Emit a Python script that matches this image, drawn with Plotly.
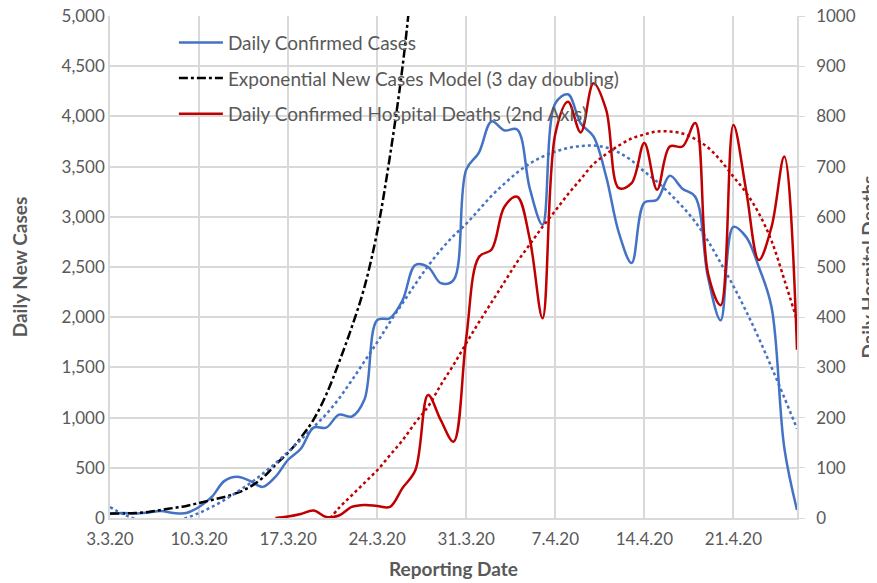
import plotly.graph_objects as go
import pandas as pd

# day index 0 = 3.3.20, last = 26.4.20
dates = pd.date_range("2020-03-03", "2020-04-26", freq="D")

daily_cases = [40, 50, 45, 55, 70, 50, 50, 110, 210, 370,
               410, 370, 310, 410, 580, 690, 900, 900, 1030, 1010,
               1180, 1970, 1990, 2170, 2520, 2500, 2340, 2370, 3470, 3640,
               3950, 3860, 3870, 3280, 2920, 4130, 4220, 3930, 3800, 3400,
               2840, 2540, 3140, 3170, 3410, 3280, 3200, 2400, 1970, 2900,
               2800, 2500, 2100, 700, 80]

# exponential model, first 25 days
exp_model = [45, 45, 50, 60, 80, 100, 120, 150, 180, 210,
             250, 310, 400, 530, 650, 800, 980, 1230, 1550, 1900,
             2300, 2850, 3600, 4500, 5700]

# hospital deaths start on 16.3.20
deaths = [0, 3, 8, 15, 2, 5, 22, 26, 24, 22,
          60, 95, 245, 195, 152, 358, 520, 535, 620, 640,
          555, 398, 765, 829, 768, 866, 813, 657, 667, 747,
          654, 740, 740, 787, 488, 424, 783, 653, 514, 580,
          720, 335]

# trend lines
cases_trend = [110, 40, -10, -40, -50, -35, 0, 50, 110, 180,
               260, 345, 440, 545, 660, 780, 905, 1035, 1190, 1370,
               1560, 1750, 1950, 2140, 2330, 2510, 2670, 2810, 2930, 3070,
               3210, 3330, 3440, 3530, 3600, 3650, 3685, 3705, 3710, 3690,
               3640, 3560, 3450, 3350, 3230, 3100, 2950, 2760, 2540, 2310,
               2060, 1790, 1500, 1200, 890]

# starts on 20.3.20
deaths_trend = [-10, 20, 45, 70, 95, 125, 155, 190, 222, 265,
                305, 348, 390, 430, 470, 510, 545, 580, 612, 645,
                675, 705, 725, 742, 756, 764, 770, 770, 766, 755,
                738, 712, 680, 648, 607, 552, 475, 394]

blue = "#4472C4"
red = "#C00000"
grey = "#595959"
grid = "#D9D9D9"

fig = go.Figure()

fig.add_trace(go.Scatter(
    x=dates, y=daily_cases, mode="lines", line_shape="spline",
    line=dict(color=blue, width=2.5), name="Daily Confirmed Cases",
    legendgroup="a"
))
fig.add_trace(go.Scatter(
    x=dates[:len(exp_model)], y=exp_model, mode="lines", line_shape="spline",
    line=dict(color="black", width=2.5, dash="dashdot"),
    name="Exponential New Cases Model (3 day doubling)", legendgroup="b"
))
fig.add_trace(go.Scatter(
    x=dates[13:], y=deaths, mode="lines", line_shape="spline", yaxis="y2",
    line=dict(color=red, width=2.5), name="Daily Confirmed Hospital Deaths (2nd Axis)",
    legendgroup="c"
))
fig.add_trace(go.Scatter(
    x=dates, y=cases_trend, mode="lines", line_shape="spline",
    line=dict(color=blue, width=2.5, dash="dot"), showlegend=False
))
fig.add_trace(go.Scatter(
    x=dates[17:], y=deaths_trend, mode="lines", line_shape="spline", yaxis="y2",
    line=dict(color=red, width=2.5, dash="dot"), showlegend=False
))

fig.update_layout(
    width=877, height=583,
    margin=dict(l=102, r=88, t=8, b=73, autoexpand=False),
    plot_bgcolor="white", paper_bgcolor="white",
    font=dict(family="Lato", color=grey, size=16),
    showlegend=True,
    legend=dict(
        x=0.093, y=0.985, xanchor="left", yanchor="top",
        bgcolor="rgba(0,0,0,0)", font=dict(size=19, color=grey),
        itemwidth=44, tracegroupgap=8
    ),
    xaxis=dict(
        type="date",
        range=["2020-03-03", "2020-04-26"],
        tick0="2020-03-03", dtick=7 * 86400000,
        tickformat="%-d.%-m.%y",
        showgrid=True, gridcolor=grid, gridwidth=1.5,
        showline=True, linecolor=grid, linewidth=1.5,
        ticks="", zeroline=False, ticklabelstandoff=5,
        ticklabeloverflow="allow",
        title=dict(text="<b>Reporting Date</b>", font=dict(size=19, color=grey), standoff=15),
        tickfont=dict(size=17, color=grey),
    ),
    yaxis=dict(
        range=[0, 5000], dtick=500, tickformat=",d",
        showgrid=True, gridcolor=grid, gridwidth=1.5,
        showline=True, linecolor=grid, linewidth=1.5,
        zeroline=False, ticks="", ticklabeloverflow="allow",
        title=dict(text="<b>Daily New Cases</b>", font=dict(size=19, color=grey), standoff=36),
        tickfont=dict(size=17, color=grey),
    ),
    yaxis2=dict(
        range=[0, 1000], dtick=100, tickformat="d",
        overlaying="y", side="right",
        showgrid=False, showline=True, linecolor=grid, linewidth=1.5,
        zeroline=False, ticks="outside", ticklen=6, tickcolor=grid,
        ticklabelstandoff=8, ticklabeloverflow="allow",
        title=dict(text="<b>Daily Hospital Deaths</b>", font=dict(size=19, color=grey), standoff=8),
        tickfont=dict(size=17, color=grey),
    ),
)

fig.write_html("out.html")
